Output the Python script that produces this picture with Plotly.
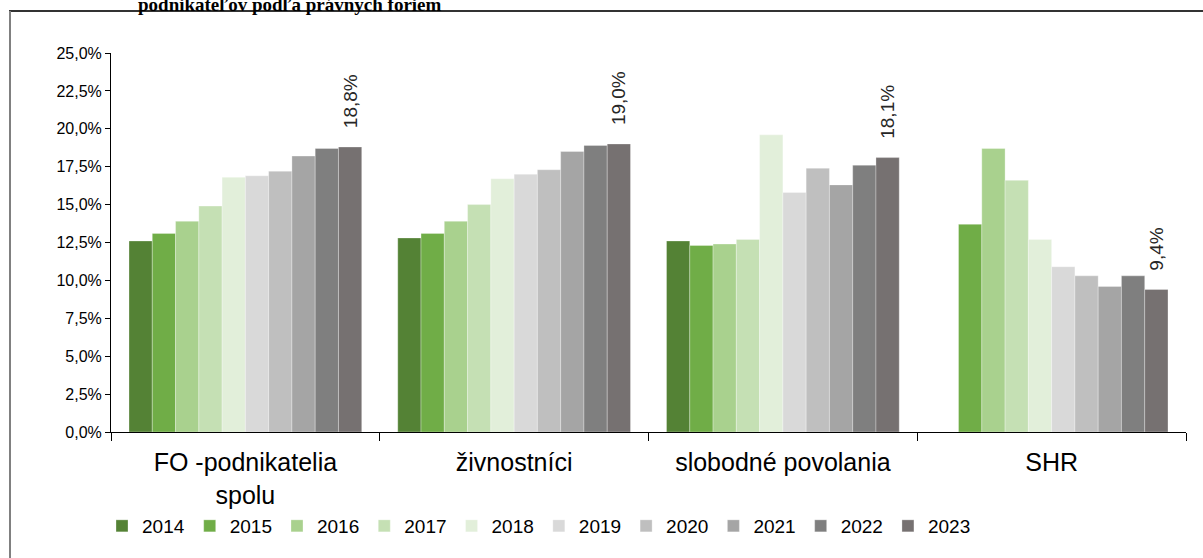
import plotly.graph_objects as go

categories = ["FO -podnikatelia<br>spolu", "živnostníci", "slobodné povolania", "SHR"]
years = ["2014", "2015", "2016", "2017", "2018", "2019", "2020", "2021", "2022", "2023"]

v2014 = [12.6, 12.8, 12.6, None]
v2015 = [13.1, 13.1, 12.3, 13.7]
v2016 = [13.9, 13.9, 12.4, 18.7]
v2017 = [14.9, 15.0, 12.7, 16.6]
v2018 = [16.8, 16.7, 19.6, 12.7]
v2019 = [16.9, 17.0, 15.8, 10.9]
v2020 = [17.2, 17.3, 17.4, 10.3]
v2021 = [18.2, 18.5, 16.3, 9.6]
v2022 = [18.7, 18.9, 17.6, 10.3]
v2023 = [18.8, 19.0, 18.1, 9.4]

series = [v2014, v2015, v2016, v2017, v2018, v2019, v2020, v2021, v2022, v2023]
colors = ["#548235", "#70AD47", "#A9D18E", "#C5E0B4", "#E2EFDA",
          "#D9D9D9", "#BFBFBF", "#A5A5A5", "#7F7F7F", "#767171"]

title_text = "podnikateľov podľa právnych foriem"

FONT = "Liberation Sans, Arial, sans-serif"

fig = go.Figure()
for yr, vals, col in zip(years, series, colors):
    kw = {}
    if yr == "2023":
        kw = dict(
            text=["\u00a0\u00a0\u00a0" + f"{v:.1f}".replace(".", ",") + "%" for v in vals],
            textposition="outside",
            textangle=-90,
            constraintext="none",
            textfont=dict(family=FONT, size=19, color="#262626"),
            cliponaxis=False,
        )
    fig.add_trace(go.Bar(
        name=yr, x=categories, y=vals,
        marker=dict(color=col, line=dict(color="rgba(255,255,255,0.5)", width=0.6)),
        **kw,
    ))

W, H = 1203, 558
L, R, T, B = 111, 17, 53, 126
pw = W - L - R
ph = H - T - B

def px_to_paper_x(px):
    return (px - L) / pw

def px_to_paper_y(py):
    return (H - B - py) / ph

fig.update_layout(
    width=W, height=H,
    margin=dict(l=L, r=R, t=T, b=B, pad=0, autoexpand=False),
    paper_bgcolor="white", plot_bgcolor="white",
    barmode="group", bargap=0.134, bargroupgap=0,
    separators=", ",
    font=dict(family=FONT, color="#000000"),
    showlegend=True,
    legend=dict(
        orientation="h", x=px_to_paper_x(102), xanchor="left",
        y=px_to_paper_y(526), yanchor="middle",
        font=dict(family=FONT, size=19, color="#000000"),
        itemwidth=30, tracegroupgap=0,
        bgcolor="rgba(0,0,0,0)",
    ),
)

fig.update_yaxes(
    range=[0, 25], dtick=2.5, tickformat=".1f", ticksuffix="%",
    showgrid=False, zeroline=False,
    showline=True, linecolor="#000000", linewidth=1,
    ticks="outside", ticklen=5, tickcolor="#000000",
    tickfont=dict(family=FONT, size=16, color="#000000"),
)
fig.update_xaxes(
    type="category", tickson="boundaries",
    showgrid=False, showline=True, linecolor="#000000", linewidth=1,
    ticks="outside", ticklen=8, tickcolor="#000000",
    ticklabelstandoff=8,
    tickfont=dict(family=FONT, size=25, color="#000000"),
)

# outer frame (top and left edges visible)
fig.add_shape(type="line", xref="paper", yref="paper",
              x0=px_to_paper_x(9), x1=px_to_paper_x(1210),
              y0=px_to_paper_y(11), y1=px_to_paper_y(11),
              line=dict(color="#333333", width=2))
fig.add_shape(type="line", xref="paper", yref="paper",
              x0=px_to_paper_x(10), x1=px_to_paper_x(10),
              y0=px_to_paper_y(11), y1=px_to_paper_y(570),
              line=dict(color="#808080", width=2))

fig.add_annotation(
    text="<b>" + title_text + "</b>",
    xref="paper", yref="paper",
    x=px_to_paper_x(290), xanchor="center",
    y=px_to_paper_y(17), yanchor="bottom",
    showarrow=False,
    font=dict(family="Liberation Serif, Times New Roman, serif", size=19, color="#000000"),
)

fig.write_html("out.html", config={"displayModeBar": False},
               post_script="document.body.style.margin='0px';")
